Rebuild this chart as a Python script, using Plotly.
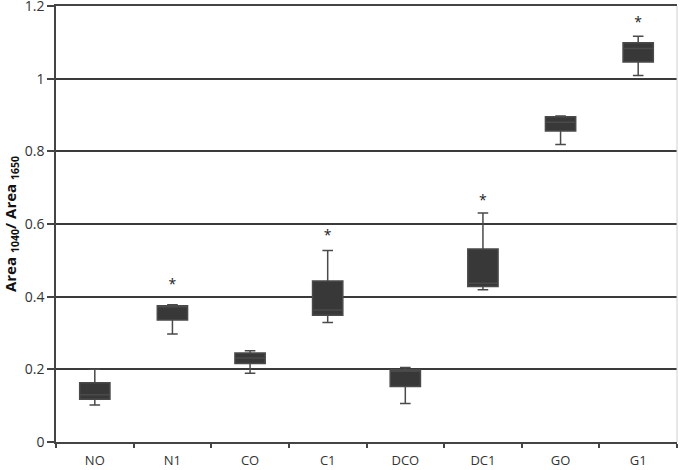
import plotly.graph_objects as go

categories = ["NO", "N1", "CO", "C1", "DCO", "DC1", "GO", "G1"]
lower = [0.102, 0.297, 0.189, 0.329, 0.106, 0.419, 0.819, 1.009]
q1 = [0.118, 0.336, 0.216, 0.349, 0.153, 0.428, 0.856, 1.046]
median = [0.130, 0.372, 0.231, 0.363, 0.195, 0.437, 0.880, 1.083]
q3 = [0.163, 0.375, 0.245, 0.443, 0.199, 0.531, 0.895, 1.099]
upper = [0.200, 0.378, 0.251, 0.527, 0.205, 0.630, 0.897, 1.117]
star_cats = ["N1", "C1", "DC1", "G1"]
star_y = [0.430, 0.565, 0.662, 1.152]
y_ticks = [0, 0.2, 0.4, 0.6, 0.8, 1.0, 1.2]
y_labels = ["0", "0.2", "0.4", "0.6", "0.8", "1", "1.2"]

fig = go.Figure()
fig.add_trace(go.Box(
    x=categories, q1=q1, median=median, q3=q3,
    lowerfence=lower, upperfence=upper,
    fillcolor="#383838", line=dict(color="#4a4a4a", width=1.5),
    width=0.39, whiskerwidth=0.35, boxpoints=False, showlegend=False,
    hoverinfo="skip",
))
fig.add_trace(go.Scatter(
    x=star_cats, y=star_y, mode="text", text=["*"] * len(star_cats),
    textfont=dict(family="Open Sans", size=14, color="#222"),
    showlegend=False, hoverinfo="skip",
))

fig.update_layout(
    width=685, height=470,
    margin=dict(l=56, r=8, t=6, b=28),
    paper_bgcolor="white", plot_bgcolor="white",
    font=dict(family="Open Sans", size=13, color="#333"),
    xaxis=dict(
        type="category", categoryorder="array", categoryarray=categories,
        range=[-0.5, 7.5],
        showline=True, linecolor="#444", linewidth=1.5, mirror=True,
        ticks="outside", tickson="boundaries", ticklen=4, tickcolor="#444",
        tickwidth=1.5, showgrid=False, ticklabelstandoff=6,
        tickfont=dict(size=13), automargin=False,
    ),
    yaxis=dict(
        range=[0, 1.2], tickmode="array", tickvals=y_ticks, ticktext=y_labels,
        showgrid=True, gridcolor="#3a3a3a", gridwidth=1.5,
        showline=True, linecolor="#444", linewidth=1.5,
        ticks="outside", ticklen=7, tickcolor="#444", tickwidth=1.5,
        zeroline=False, tickfont=dict(size=14), automargin=False,
        ticklabeloverflow="allow",
        title=dict(text="Area <sub>1040</sub>/ Area <sub>1650</sub>",
                   font=dict(family="Open Sans", size=15, color="#111", weight="bold"),
                   standoff=10),
    ),
)
fig.add_shape(type="line", xref="paper", yref="paper", x0=1, x1=1, y0=0, y1=1,
              line=dict(color="#cfcfcf", width=1))

fig.write_html("out.html", config={"displayModeBar": False},
               post_script="document.body.style.margin='0';")
